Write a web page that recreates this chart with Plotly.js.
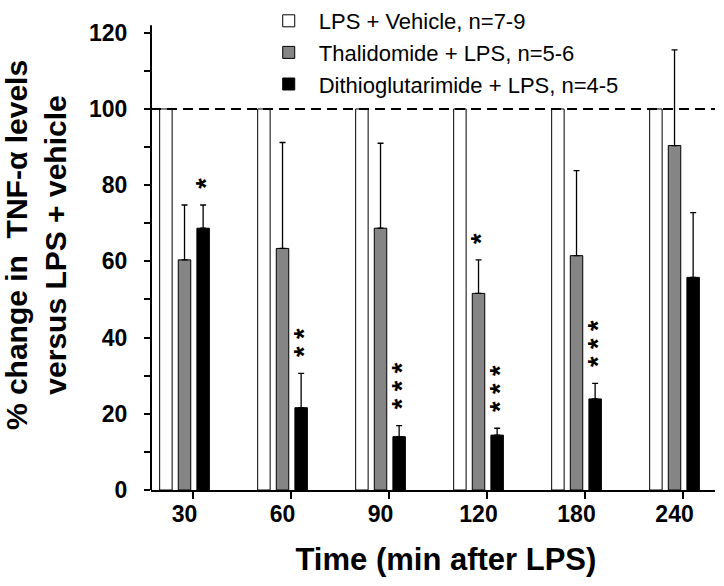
<!DOCTYPE html>
<html>
<head>
<meta charset="utf-8">
<script src="https://cdn.plot.ly/plotly-3.0.1.min.js"></script>
<style>
  html, body { margin: 0; padding: 0; background: #fff; }
  #chart { width: 724px; height: 586px; }
</style>
</head>
<body>
<div id="chart"></div>
<script>
// ---- data ----
const timeLabels = ['30', '60', '90', '120', '180', '240'];
const seriesNames = ['LPS + Vehicle, n=7-9', 'Thalidomide + LPS, n=5-6', 'Dithioglutarimide + LPS, n=4-5'];
const vehicle = [100, 100, 100, 100, 100, 100];
const thalidomide = [60.4, 63.4, 68.7, 51.6, 61.5, 90.4];
const thalidomideErr = [14.4, 27.8, 22.3, 8.8, 22.3, 25.1];
const dithio = [68.7, 21.6, 14.0, 14.4, 23.9, 55.8];
const dithioErr = [6.1, 9.0, 2.9, 1.8, 4.1, 17.0];
const thalidomideSig = ['', '', '', '*', '', ''];
const dithioSig = ['*', '**', '***', '***', '***', ''];

// ---- layout constants ----
const FONT = 'Liberation Sans, Arial, Helvetica, sans-serif';
const bargap = 0.43;
const slot = (1 - bargap) / 3;
const tickShift = 0.087;
const xRange = [-0.342, 5.413];
const yRange = [0, 128.6];     // plot area reaches the top of the page (room for the legend)
const yAxisTop = 122;          // visible y-axis line stops just above 120

const xs = timeLabels.map((_, i) => i);
const zeros = xs.map(() => 0);

function errBar(arr) {
  return { type: 'data', symmetric: false, array: arr, arrayminus: zeros,
           color: '#000', thickness: 1.3, width: 3, visible: true };
}

const traces = [
  { type: 'bar', name: seriesNames[0], x: xs, y: vehicle, legendgroup: 'a',
    marker: { color: '#ffffff', line: { color: '#000', width: 1 } } },
  { type: 'bar', name: seriesNames[1], x: xs, y: thalidomide, legendgroup: 'b',
    marker: { color: '#858585', line: { color: '#000', width: 1 } },
    error_y: errBar(thalidomideErr) },
  { type: 'bar', name: seriesNames[2], x: xs, y: dithio, legendgroup: 'c',
    marker: { color: '#000000', line: { color: '#000', width: 1 } },
    error_y: errBar(dithioErr) }
];

// significance stars: one vertical stack of asterisks per bar
const annotations = [];
function addStars(sig, vals, errs, offset) {
  sig.forEach((s, i) => {
    if (!s) return;
    annotations.push({
      x: xs[i] + offset, y: vals[i] + errs[i], xref: 'x', yref: 'y',
      text: s.split('').join(' '), textangle: -90, showarrow: false,
      yanchor: 'bottom', xanchor: 'center', yshift: 14, xshift: 3,
      font: { family: FONT, size: 27, weight: 'bold', color: '#000' }
    });
  });
}
addStars(thalidomideSig, thalidomide, thalidomideErr, 0);
addStars(dithioSig, dithio, dithioErr, slot);

const layout = {
  width: 724, height: 586,
  margin: { l: 151, r: 9, t: 0, b: 96 },
  paper_bgcolor: '#fff', plot_bgcolor: '#fff',
  barmode: 'group', bargap: bargap, bargroupgap: 0.33,
  font: { family: FONT, color: '#000' },
  showlegend: true,
  legend: {
    x: 0.191, xanchor: 'left', y: 1, yanchor: 'top', itemwidth: 50,
    font: { family: FONT, size: 22, color: '#000' },
    bgcolor: 'rgba(0,0,0,0)', traceorder: 'grouped', tracegroupgap: 0
  },
  xaxis: {
    range: xRange,
    // labels centred on each bar group
    tickmode: 'array', tickvals: xs, ticktext: timeLabels, ticks: '',
    ticklabelstandoff: 2,
    // the tick marks sit between the grey and black bars
    minor: { tickmode: 'array', tickvals: xs.map(i => i + tickShift),
             ticks: 'outside', ticklen: 7, tickwidth: 2, tickcolor: '#000', showgrid: false },
    showline: true, linecolor: '#000', linewidth: 2,
    showgrid: false, zeroline: false,
    tickfont: { family: FONT, size: 23, weight: 'bold', color: '#000' },
    title: { text: '<span>\u00a0\u00a0\u00a0</span>Time (min after LPS)', standoff: 23,
             font: { family: FONT, size: 31, weight: 'bold', color: '#000' } }
  },
  yaxis: {
    range: yRange, tickmode: 'array', tickvals: [0, 20, 40, 60, 80, 100, 120],
    showline: false,
    ticks: 'outside', ticklen: 6, tickwidth: 2, tickcolor: '#000',
    minor: { tickmode: 'array', tickvals: [10, 30, 50, 70, 90, 110],
             ticks: 'outside', ticklen: 6, tickwidth: 2, tickcolor: '#000', showgrid: false },
    showgrid: false, zeroline: false, ticklabelstandoff: 12,
    tickfont: { family: FONT, size: 23, weight: 'bold', color: '#000' },
    title: { text: '% change in\u00a0\u00a0TNF-\u03b1 levels<br>versus LPS + vehicle', standoff: 22,
             font: { family: FONT, size: 30, weight: 'bold', color: '#000' } }
  },
  shapes: [
    { type: 'line', xref: 'paper', yref: 'y', x0: 0, x1: 0, y0: 0, y1: yAxisTop,
      line: { color: '#000', width: 2 }, layer: 'above' },
    { type: 'line', xref: 'paper', yref: 'y', x0: 0, x1: 1, y0: 100, y1: 100,
      line: { color: '#000', width: 2, dash: '10px,6px' }, layer: 'above' }
  ],
  annotations: annotations
};

Plotly.newPlot('chart', traces, layout, { displayModeBar: false, staticPlot: true });
</script>
</body>
</html>
